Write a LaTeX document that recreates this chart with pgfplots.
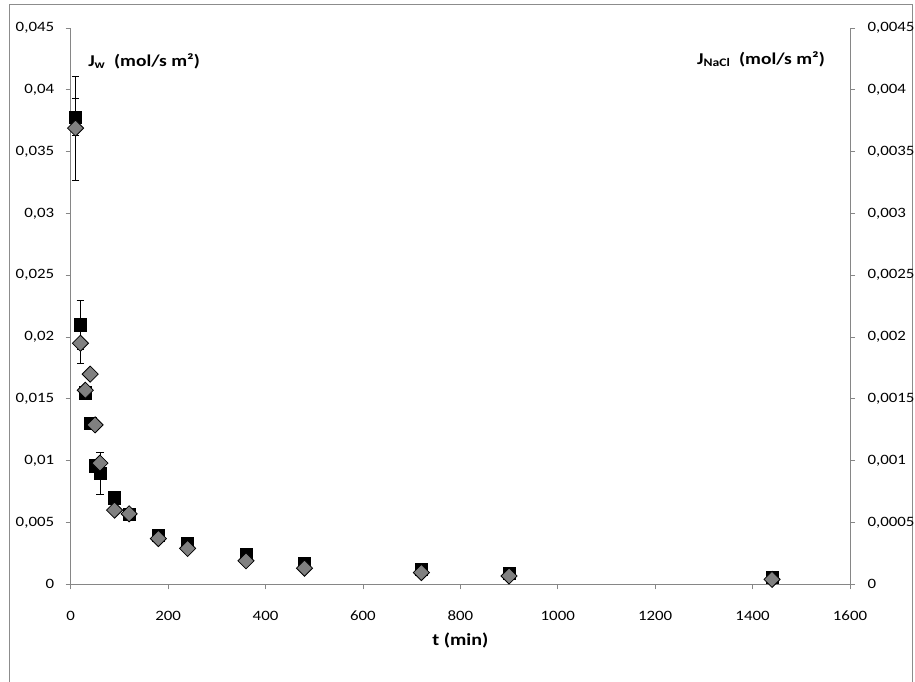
\documentclass[border=0pt]{standalone}
\usepackage{fontspec}
\setmainfont{Carlito}[FakeStretch=1.18]
\usepackage{pgfplots}
\usepackage{pgfplotstable}
\pgfplotsset{compat=1.18}

\definecolor{axisgray}{RGB}{134,134,134}
\definecolor{framegray}{RGB}{140,140,140}
\definecolor{naclgray}{RGB}{128,128,128}

% water flux J_w (mol/s m2) with standard deviation
\pgfplotstableread{
t     jw      err
10    0.0378  0.0015
20    0.0210  0.0020
30    0.0155  0
40    0.0130  0
50    0.0096  0
60    0.0090  0.0017
90    0.0070  0
120   0.0057  0
180   0.0040  0
240   0.0033  0
360   0.0024  0
480   0.0017  0
720   0.0012  0
900   0.0009  0
1440  0.0006  0
}\waterflux

% salt flux J_NaCl (mol/s m2) with standard deviation
\pgfplotstableread{
t     js       err
10    0.00369  0.00042
20    0.00195  0.00016
30    0.00157  0
40    0.00170  0
50    0.00129  0
60    0.00098  0
90    0.00060  0
120   0.00057  0
180   0.00037  0
240   0.00029  0
360   0.00019  0
480   0.00013  0
720   0.000095 0
900   0.000067 0
1440  0.00004  0
}\saltflux

\pgfplotsset{
  fluxaxis/.style={
    at={(70.7pt,96.7pt)}, anchor=south west,
    scale only axis, width=779.3pt, height=556.3pt,
    xmin=0, xmax=1600,
    clip=false,
    scaled x ticks=false, scaled y ticks=false,
    axis line style={-, draw=axisgray, line width=0.8pt},
    tick style={draw=axisgray, line width=0.8pt},
    tick align=outside, major tick length=5pt,
    ticklabel style={font=\fontsize{14.3}{17}\selectfont},
    /pgf/number format/assume math mode=true,
  },
  witherr/.style={
    error bars/.cd, y dir=both, y explicit,
    error bar style={draw=black, line width=0.8pt},
    error mark=|,
    error mark options={draw=black, mark size=3.8pt, line width=0.8pt},
  },
}

\begin{document}
\begin{tikzpicture}[x=1pt,y=1pt]
\useasboundingbox (0,0) rectangle (915,681);
\draw[framegray, line width=1pt] (9,-20) rectangle (912,676);

\begin{axis}[
  fluxaxis,
  ymin=0, ymax=0.045,
  axis x line*=bottom, axis y line*=left,
  xtick={0,200,400,600,800,1000,1200,1400,1600},
  xticklabels={0,200,400,600,800,1000,1200,1400,1600},
  xticklabel style={yshift=-18pt},
  ytick={0,0.005,0.01,0.015,0.02,0.025,0.03,0.035,0.04,0.045},
  yticklabels={{0},{0,005},{0,01},{0,015},{0,02},{0,025},{0,03},{0,035},{0,04},{0,045}},
  yticklabel style={xshift=-8pt},
  xlabel={\textbf{t (min)}},
  xlabel style={font=\fontsize{17}{20}\selectfont, at={(axis description cs:0.5,0)}, anchor=center, yshift=-55.7pt},
]
\addplot[only marks, mark=square*, mark size=6.1pt, mark options={fill=black, draw=black}, witherr]
  table[x=t, y=jw, y error=err] {\waterflux};
\node[anchor=west, font=\fontsize{16.5}{21}\selectfont\bfseries] at (axis description cs:0.018,0.9407)
  {J\textsubscript{w}\ \ (mol/s m²)};
\end{axis}

\begin{axis}[
  fluxaxis,
  ymin=0, ymax=0.0045,
  axis x line=none, axis y line*=right,
  ytick={0,0.0005,0.001,0.0015,0.002,0.0025,0.003,0.0035,0.004,0.0045},
  yticklabels={{0},{0,0005},{0,001},{0,0015},{0,002},{0,0025},{0,003},{0,0035},{0,004},{0,0045}},
  yticklabel style={xshift=9pt},
]
\addplot[only marks, mark=square*, mark size=5.7pt,
  mark options={rotate=45, fill=naclgray, draw=black, line width=0.8pt}, witherr]
  table[x=t, y=js, y error=err] {\saltflux};
\node[anchor=east, font=\fontsize{16.5}{21}\selectfont\bfseries] at (axis description cs:0.9722,0.944)
  {J\textsubscript{NaCl}\ \ (mol/s m²)};
\end{axis}
\end{tikzpicture}
\end{document}
